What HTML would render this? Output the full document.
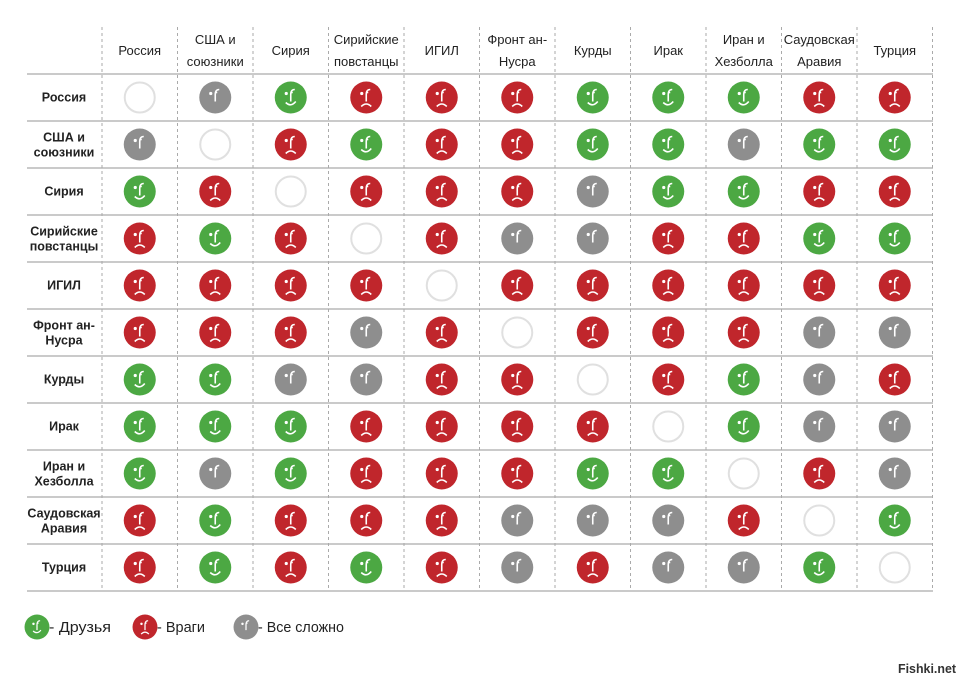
<!DOCTYPE html>
<html><head><meta charset="utf-8"><style>
body{margin:0;background:#fff;width:960px;height:680px;overflow:hidden;font-family:"Liberation Sans",sans-serif}
</style></head><body>
<svg width="960" height="680" viewBox="0 0 960 680" xmlns="http://www.w3.org/2000/svg" font-family="Liberation Sans, sans-serif">
<defs>
<g id="G"><circle r="16" fill="#4ca843"/><circle cx="-4.5" cy="-4" r="1.6" fill="#fff"/><path d="M4,-8 Q0,-8 0,-3 L0,4 M0,-5 L2,-5" stroke="#fff" stroke-width="1.6" fill="none"/><path d="M-5,5 Q0,10 5,4" stroke="#fff" stroke-width="1.6" fill="none"/></g>
<g id="R"><circle r="16" fill="#c0262c"/><circle cx="-4.5" cy="-4" r="1.6" fill="#fff"/><path d="M4,-8 Q0,-8 0,-3 L0,4 M0,-5 L2,-5" stroke="#fff" stroke-width="1.6" fill="none"/><path d="M-5,9 Q0,4 5,9" stroke="#fff" stroke-width="1.6" fill="none"/></g>
<g id="Y"><circle r="16" fill="#8e8e8e"/><circle cx="-4.5" cy="-4" r="1.6" fill="#fff"/><path d="M4,-8 Q0,-8 0,-3 L0,4 M0,-5 L2,-5" stroke="#fff" stroke-width="1.6" fill="none"/></g>
<g id="E"><circle r="15" fill="#fff" stroke="#e0e0e0" stroke-width="2"/></g>
</defs>
</svg>
<script>
const s=document.querySelector('svg'),ns='http://www.w3.org/2000/svg';
function el(t,a,txt){const e=document.createElementNS(ns,t);for(const k in a)e.setAttribute(k,a[k]);if(txt)e.textContent=txt;s.appendChild(e);return e;}
const x0=102,cw=75.5,y0=74,rh=47;
for(let k=0;k<=11;k++){const x=x0+k*cw;el('line',{x1:x,y1:27,x2:x,y2:591,stroke:'#aaa','stroke-dasharray':'3,3','stroke-width':1});}
for(let r=0;r<=11;r++){const y=y0+r*rh;el('line',{x1:27,y1:y,x2:933,y2:y,stroke:'#aaa','stroke-width':1.3});}
const names=[["Россия"],["США и","союзники"],["Сирия"],["Сирийские","повстанцы"],["ИГИЛ"],["Фронт ан-","Нусра"],["Курды"],["Ирак"],["Иран и","Хезболла"],["Саудовская","Аравия"],["Турция"]];
names.forEach((n,i)=>{const cx=x0+cw*(i+0.5);
 if(n.length==1)el('text',{x:cx,y:55,'text-anchor':'middle','font-size':13,fill:'#222'},n[0]);
 else{el('text',{x:cx,y:44,'text-anchor':'middle','font-size':13,fill:'#222'},n[0]);el('text',{x:cx,y:66,'text-anchor':'middle','font-size':13,fill:'#222'},n[1]);}
 const cy=y0+rh*(i+0.5);
 if(n.length==1)el('text',{x:64,y:cy+4,'text-anchor':'middle','font-size':12.5,'font-weight':'bold',fill:'#222'},n[0]);
 else{el('text',{x:64,y:cy-3,'text-anchor':'middle','font-size':12.5,'font-weight':'bold',fill:'#222'},n[0]);el('text',{x:64,y:cy+12,'text-anchor':'middle','font-size':12.5,'font-weight':'bold',fill:'#222'},n[1]);}
});
const M=["EYGRRRGGGRR","YERGRRGGYGG","GRERRRYGGRR","RGRERYYRRGG","RRRRERRRRRR","RRRYRERRRYY","GGYYRRERGYR","GGGRRRREGYY","GYGRRRGGERY","RGRRRYYYREG","RGRGRYRYYGE"];
M.forEach((row,r)=>{[...row].forEach((c,k)=>{el('use',{href:'#'+c,x:x0+cw*(k+0.5),y:y0+rh*(r+0.5)});});});
[[37,'G','- Друзья',62],[145,'R','- Враги',48],[246,'Y','- Все сложно',86]].forEach(([x,c,t,w])=>{el('use',{href:'#'+c,transform:`translate(${x},627) scale(0.78)`});el('text',{x:x+12,y:632,'font-size':15,fill:'#222',textLength:w,lengthAdjust:'spacingAndGlyphs'},t);});
el('text',{x:956,y:673,'text-anchor':'end','font-size':13,fill:'#333','font-weight':'bold',textLength:58,lengthAdjust:'spacingAndGlyphs'},'Fishki.net');
</script>
</body></html>
